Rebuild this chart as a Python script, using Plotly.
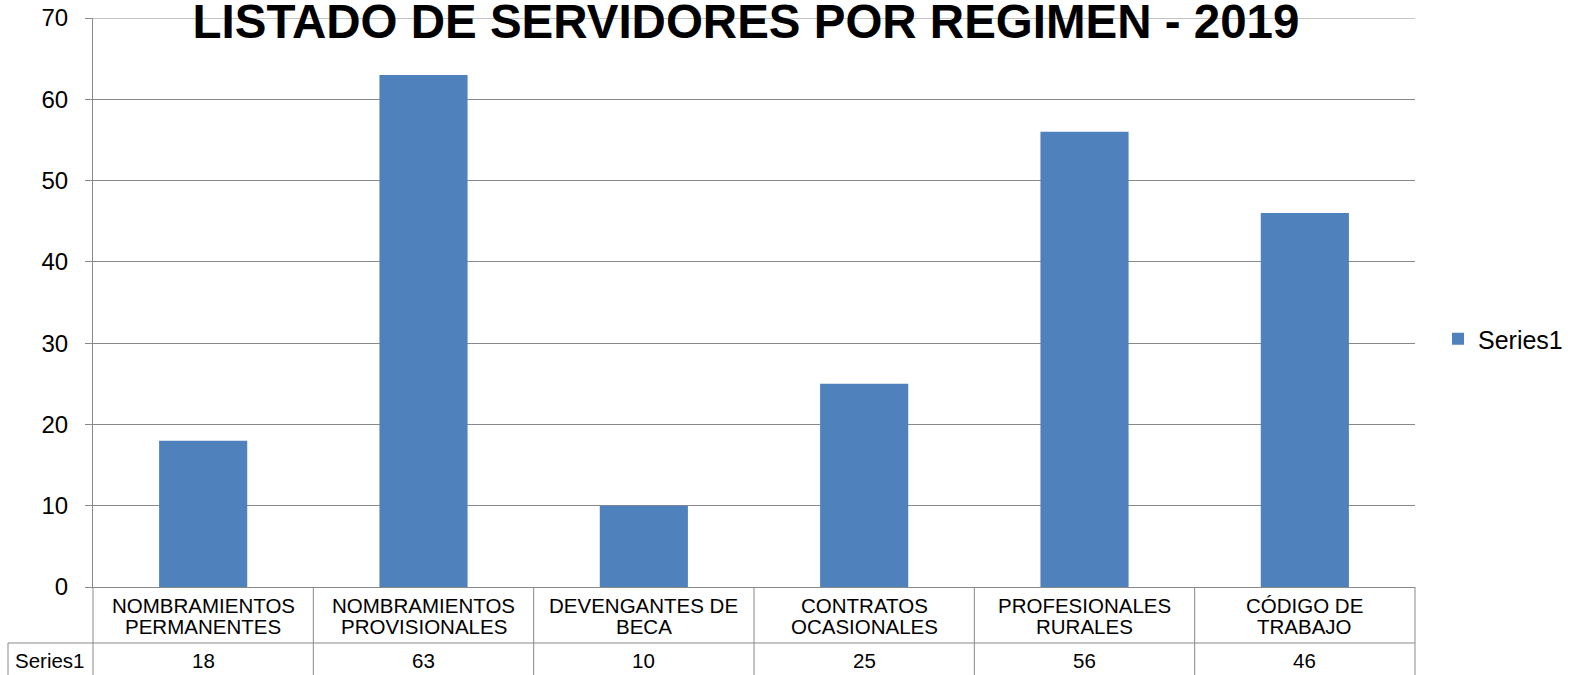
import plotly.graph_objects as go

categories = ["NOMBRAMIENTOS<br>PERMANENTES", "NOMBRAMIENTOS<br>PROVISIONALES",
              "DEVENGANTES DE<br>BECA", "CONTRATOS<br>OCASIONALES",
              "PROFESIONALES<br>RURALES", "CÓDIGO DE<br>TRABAJO"]
series_name = "Series1"
values = [18, 63, 10, 25, 56, 46]
y_ticks = [0, 10, 20, 30, 40, 50, 60, 70]
title_text = "LISTADO DE SERVIDORES POR REGIMEN - 2019"

W, H = 1573, 675
# plot area in pixels
PL, PR, PT, PB = 93, 1415, 18, 587
ML, MR, MT, MB = PL, W - PR, PT, H - PB
PW, PH = PR - PL, PB - PT
FONT = "Liberation Sans, Arial, sans-serif"
GRID = "#898989"
BAR = "#4F81BD"
TFS = 20.5          # data table font size
LINE_GAP = 21.7     # table line spacing (px)

def px_y(py):  # pixel row -> paper y
    return (PB - py) / PH

def px_x(px):  # pixel col -> paper x
    return (px - PL) / PW

n = len(categories)
fig = go.Figure()
fig.add_trace(go.Bar(x=list(range(n)), y=values, name=series_name,
                     marker=dict(color=BAR, line=dict(width=0)), showlegend=True))

shapes = []
annotations = []
# top gridline at the end of the range (plotly omits it at the edge)
shapes.append(dict(type="line", xref="paper", yref="y", x0=0, x1=1,
                   y0=y_ticks[-1], y1=y_ticks[-1], layer="below",
                   line=dict(color=GRID, width=1)))
row1_bottom = px_y(643)
table_bottom = px_y(H + 5)
for i in range(n + 1):
    xb = i / n
    shapes.append(dict(type="line", xref="paper", yref="paper", x0=xb, x1=xb,
                       y0=0, y1=table_bottom, line=dict(color=GRID, width=1)))
shapes.append(dict(type="line", xref="paper", yref="paper", x0=px_x(8), x1=1,
                   y0=row1_bottom, y1=row1_bottom, line=dict(color=GRID, width=1)))
shapes.append(dict(type="line", xref="paper", yref="paper", x0=px_x(8), x1=px_x(8),
                   y0=row1_bottom, y1=table_bottom, line=dict(color=GRID, width=1)))

tfont = dict(family=FONT, size=TFS, color="black")
for i, (c, v) in enumerate(zip(categories, values)):
    xc = (i + 0.5) / n
    for k, line in enumerate(c.split("<br>")):
        annotations.append(dict(x=xc, y=px_y(605 + k * LINE_GAP), xref="paper", yref="paper",
                                text=line, showarrow=False, xanchor="center", yanchor="middle",
                                font=tfont))
    annotations.append(dict(x=xc, y=px_y(660), xref="paper", yref="paper", text=str(v),
                            showarrow=False, xanchor="center", yanchor="middle", font=tfont))
annotations.append(dict(x=px_x(50), y=px_y(660), xref="paper", yref="paper", text=series_name,
                        showarrow=False, xanchor="center", yanchor="middle", font=tfont))

fig.update_layout(
    width=W, height=H,
    margin=dict(l=ML, r=MR, t=MT, b=MB, autoexpand=False),
    paper_bgcolor="white", plot_bgcolor="white",
    font=dict(family=FONT, color="black"),
    title=dict(text=title_text, x=746 / W, xanchor="center", xref="container",
               y=1 - 21 / H, yanchor="middle", yref="container",
               font=dict(family=FONT, size=47.5, color="black", weight="bold")),
    bargap=0.6,
    xaxis=dict(range=[-0.5, n - 0.5], showticklabels=False, showgrid=False, zeroline=False,
               showline=True, linecolor=GRID, linewidth=1, ticks=""),
    yaxis=dict(range=[0, 70], tickvals=y_ticks, showgrid=True, gridcolor=GRID, gridwidth=1,
               zeroline=False, showline=True, linecolor=GRID, linewidth=1,
               ticks="outside", ticklen=7, tickcolor=GRID, tickwidth=1,
               ticklabelstandoff=12, ticklabeloverflow="allow",
               tickfont=dict(family=FONT, size=24, color="black")),
    legend=dict(x=px_x(1438), xanchor="left", y=px_y(339), yanchor="middle",
                font=dict(family=FONT, size=25, color="black"), bgcolor="rgba(0,0,0,0)"),
    shapes=shapes,
    annotations=annotations,
)

fig.write_html("out.html", config={"displayModeBar": False},
               post_script="document.body.style.margin='0';document.body.style.overflow='hidden';")
